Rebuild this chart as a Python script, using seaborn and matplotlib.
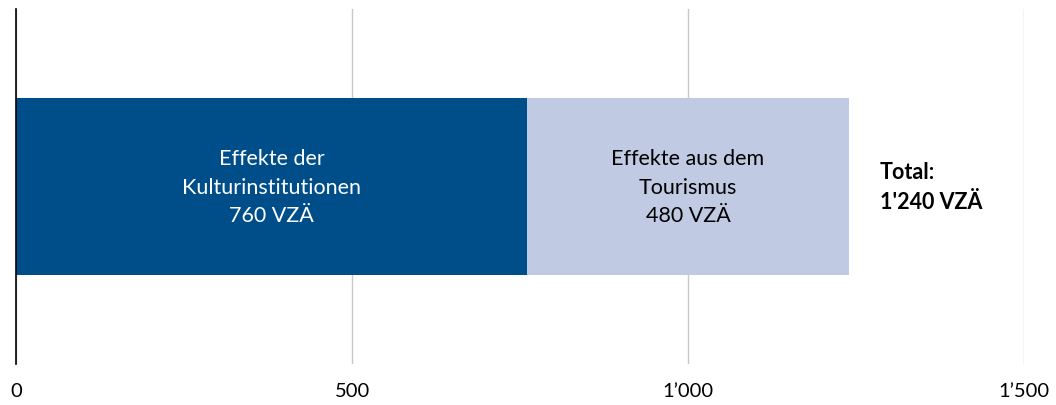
import matplotlib.pyplot as plt
import seaborn as sns
import pandas as pd
from matplotlib.ticker import FuncFormatter

# Daten
kategorie = ["Beschäftigung"]
kultur = [760]
tourismus = [480]
kultur_label = "Effekte der\nKulturinstitutionen\n760 VZÄ"
tourismus_label = "Effekte aus dem\nTourismus\n480 VZÄ"
total_label = "Total:\n1'240 VZÄ"
x_ticks = [0, 500, 1000, 1500]

df = pd.DataFrame({"Kategorie": kategorie, "Kultur": kultur, "Tourismus": tourismus})
df["Total"] = df["Kultur"] + df["Tourismus"]

sns.set_theme(style="white")
plt.rcParams["font.family"] = ["Lato", "DejaVu Sans"]

fig = plt.figure(figsize=(10.56, 4.06), dpi=100)
ax = fig.add_axes([0.0152, 0.101, 0.9545, 0.874])

# gestapelt: zuerst Total (hell), darüber Kultur (dunkel)
sns.barplot(data=df, x="Total", y="Kategorie", orient="h", color="#C0CAE3",
            width=1.0, saturation=1, linewidth=0, ax=ax, zorder=2)
sns.barplot(data=df, x="Kultur", y="Kategorie", orient="h", color="#004E89",
            width=1.0, saturation=1, linewidth=0, ax=ax, zorder=3)

ax.set_xlim(0, 1500)
ax.set_ylim(1, -1)
ax.set_xticks(x_ticks)
ax.xaxis.set_major_formatter(FuncFormatter(lambda v, p: f"{int(v):,}".replace(",", "\u2019")))
ax.tick_params(axis="x", length=0, pad=13, labelsize=14.5, colors="black")
ax.set_yticks([])
ax.set_xlabel("")
ax.set_ylabel("")

ax.grid(axis="x", color="#C8C8C8", linewidth=1, zorder=0)
for s in ["top", "right", "bottom"]:
    ax.spines[s].set_visible(False)
ax.spines["left"].set_color("black")
ax.spines["left"].set_linewidth(1.2)
ax.spines["left"].set_zorder(4)

k = df["Kultur"].iloc[0]
t = df["Tourismus"].iloc[0]
ax.text(k / 2, 0, kultur_label, ha="center", va="center", color="white",
        fontsize=15.5, linespacing=1.55, zorder=5)
ax.text(k + t / 2, 0, tourismus_label, ha="center", va="center", color="black",
        fontsize=15.5, linespacing=1.55, zorder=5)
ax.text(k + t + 45, 0, total_label, ha="left", va="center", color="black",
        fontsize=15.5, fontweight="bold", linespacing=1.55, zorder=5)

plt.savefig("out.png", dpi=100)
